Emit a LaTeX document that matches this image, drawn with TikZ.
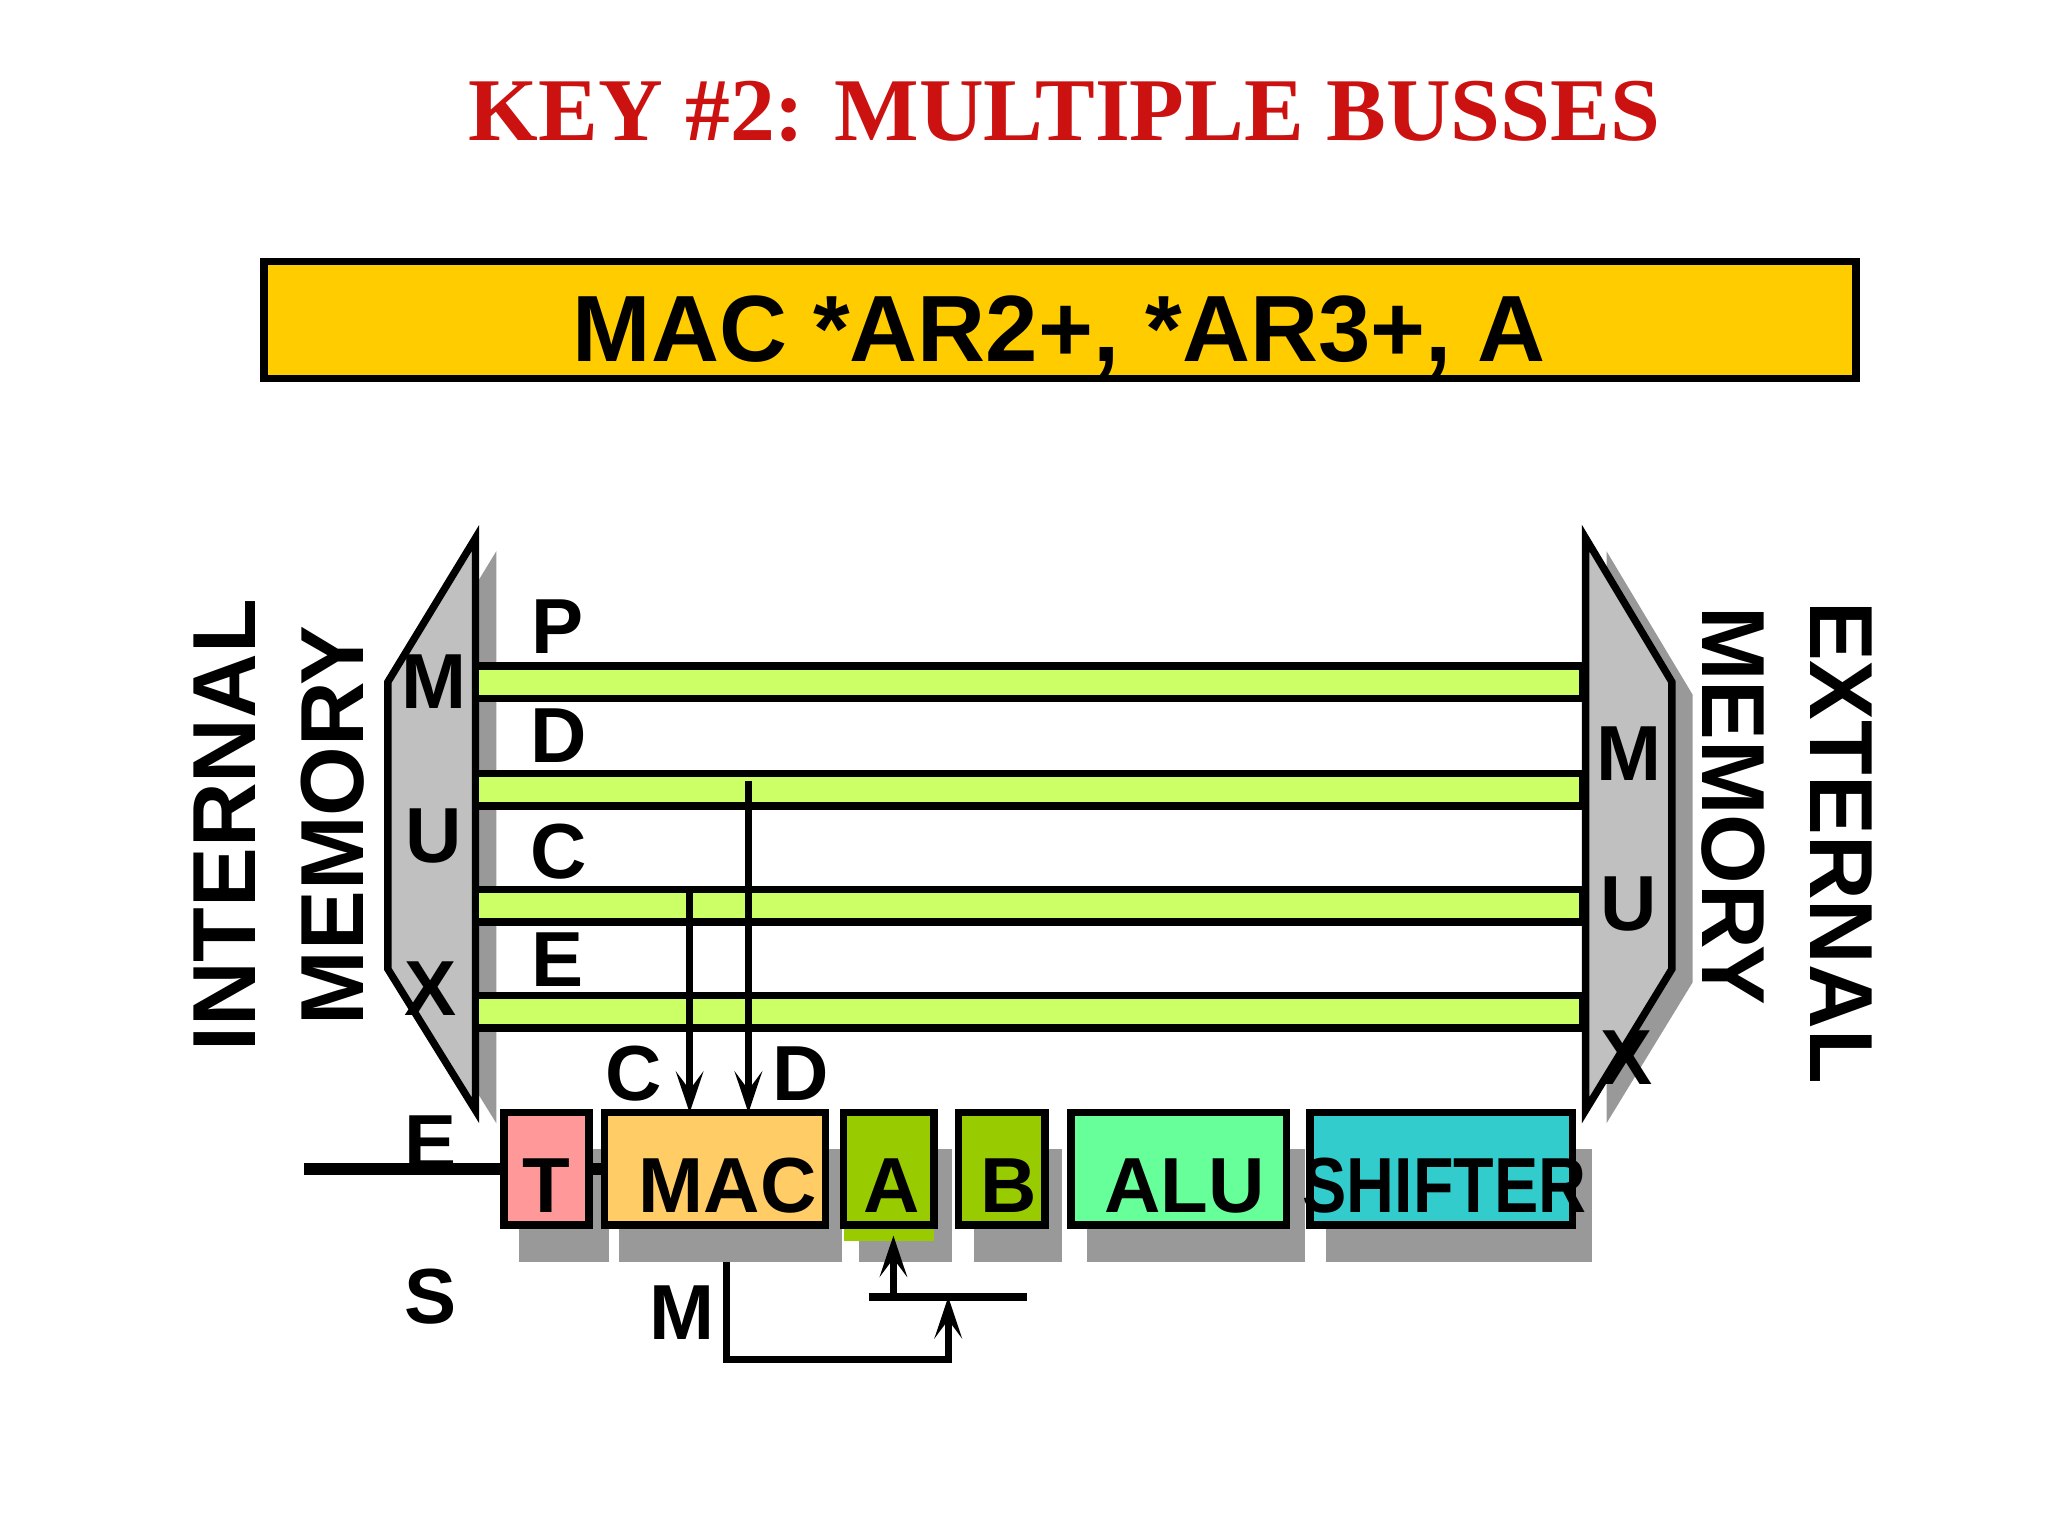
\documentclass[tikz,border=0pt]{standalone}
\usepackage{fontspec}
\setmainfont{Liberation Sans}
\newfontfamily\titlefont{Liberation Serif}
\usetikzlibrary{arrows.meta}
\definecolor{titlered}{HTML}{CC1111}
\definecolor{instr}{HTML}{FFCC00}
\definecolor{muxgray}{HTML}{C0C0C0}
\definecolor{shad}{HTML}{999999}
\definecolor{busg}{HTML}{CCFF66}
\definecolor{tcol}{HTML}{FF9999}
\definecolor{maccol}{HTML}{FFCC66}
\definecolor{abcol}{HTML}{99CC00}
\definecolor{alucol}{HTML}{66FF99}
\definecolor{shcol}{HTML}{33CCCC}
\tikzset{
 lbl/.style={font=\fontsize{17}{17}\selectfont\bfseries, inner sep=0pt},
 vlbl/.style={font=\fontsize{19.5}{19.5}\selectfont\bfseries, inner sep=0pt},
 bus/.style={draw=black, line width=1.6pt, fill=busg},
 unit/.style={draw=black, line width=1.6pt},
 sh/.style={fill=shad, draw=none},
 wire/.style={line width=1.6pt},
 arr/.style={wire, -{Stealth[length=9pt,width=6pt,inset=4pt]}},
}
\begin{document}
\begin{tikzpicture}[x=0.01cm,y=-0.01cm]
\useasboundingbox (0,0) rectangle (1568,1176);
\node[font=\titlefont\fontsize{19.5}{19.5}\selectfont\bfseries, text=titlered] (title) at (815,85) {KEY \#2: MULTIPLE BUSSES};
\draw[line width=1.6pt, fill=instr] (202,200) rectangle (1421,290);
\node[font=\fontsize{20.5}{20.5}\selectfont\bfseries] (instr) at (811,257) {MAC *AR2+, *AR3+, A};
% mux shadows
\fill[shad] (380,422) -- (313,532) -- (313,752) -- (380,860) -- cycle;
\fill[shad] (1230,422) -- (1296,532) -- (1296,752) -- (1230,860) -- cycle;
\draw[line width=1.6pt, fill=muxgray, line join=miter] (364,412) -- (297,522) -- (297,742) -- (364,850) -- cycle;
\draw[line width=1.6pt, fill=muxgray, line join=miter] (1214,412) -- (1280,522) -- (1280,742) -- (1214,850) -- cycle;
% buses
\foreach \y in {510,592,681,762} \draw[bus] (364,\y) rectangle (1212,\y+25);
\node[lbl] (P) at (427,480) {P};
\node[lbl] (Dl) at (428,563) {D};
\node[lbl] (Cl) at (428,652) {C};
\node[lbl] (El) at (427,735) {E};
\node[lbl] (m1) at (332,522) {M};
\node[lbl] (u1) at (332,640) {U};
\node[lbl] (x1) at (330,757) {X};
\node[lbl] (m2) at (1247,577) {M};
\node[lbl] (u2) at (1247,692) {U};
\node[lbl] (x2) at (1245,810) {X};
\node[vlbl, rotate=90] (int) at (172,632) {INTERNAL};
\node[vlbl, rotate=90] (mem1) at (255,632) {MEMORY};
\node[vlbl, rotate=-90] (mem2) at (1327,617) {MEMORY};
\node[vlbl, rotate=-90] (ext) at (1410,645) {EXTERNAL};
% shadows of units
\fill[sh] (397,880) rectangle (466,966);
\fill[sh] (474,880) rectangle (645,966);
\fill[sh] (658,880) rectangle (729,966);
\fill[sh] (746,880) rectangle (813,966);
\fill[sh] (832,880) rectangle (999,966);
\fill[sh] (1015,880) rectangle (1219,966);
\fill[abcol] (646,930) rectangle (715,950);
% units
\node[unit, fill=tcol, minimum width=65\pgflinewidth, inner sep=0pt] (T) at (418.5,895) {};
\draw[unit, fill=tcol] (386,852) rectangle (451,938);
\draw[unit, fill=maccol] (463,852) rectangle (632,938);
\draw[unit, fill=abcol] (646,852) rectangle (715,938);
\draw[unit, fill=abcol] (734,852) rectangle (800,938);
\draw[unit, fill=alucol] (820,852) rectangle (985,938);
\draw[unit, fill=shcol] (1003,852) rectangle (1204,938);
\node[lbl] (tl) at (418,908) {T};
\node[lbl] (macl) at (557,908) {MAC};
\node[lbl] (al) at (683,908) {A};
\node[lbl] (bl) at (772,908) {B};
\node[lbl] (alul) at (907,908) {ALU};
\node[lbl, xscale=0.85] (shl) at (1106,908) {SHIFTER};
% bus taps
\coordinate (dtap) at (573,598);
\coordinate (ctap) at (528,683);
\draw[arr] (dtap) -- (573,852);
\draw[arr] (ctap) -- (528,852);
\node[lbl] (C2) at (485,822) {C};
\node[lbl] (D2) at (613,822) {D};
\node[lbl] (E2) at (330,875) {E};
\node[lbl] (S2) at (330,993) {S};
\node[lbl] (M3) at (522,1005) {M};
% feedback
\coordinate (fb0) at (556,966);
\coordinate (fb1) at (556,1041);
\coordinate (fb2) at (726,1041);
\coordinate (fb3) at (726,993);
\draw[wire] (fb0) -- (fb1) -- (fb2) -- (726,1020);
\draw[arr] (726,1022) -- (fb3);
\draw[wire] (665,993) -- (786,993);
\coordinate (st) at (684,993);
\draw[wire] (st) -- (684,975);
\draw[arr] (684,977) -- (684,946);
\end{tikzpicture}
\end{document}
